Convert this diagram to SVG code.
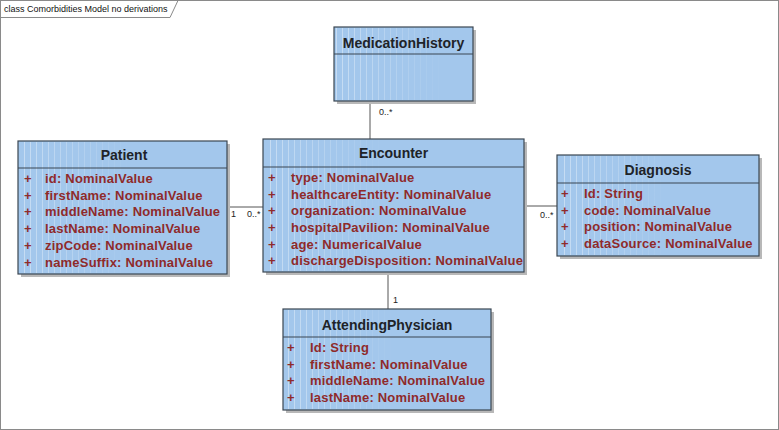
<svg xmlns="http://www.w3.org/2000/svg" width="779" height="430" viewBox="0 0 779 430">
<defs>
<style>
.frame{fill:none;stroke:#8a8a8a;stroke-width:1}
.shadow{fill:#b8b8b8}
.box{fill:#a3c7ec;stroke:#3b4652;stroke-width:1.2}
.sep{stroke:#3b4652;stroke-width:1.2}
.title{font-family:"Liberation Sans",Arial,sans-serif;font-weight:bold;font-size:14px;fill:#1e2328;text-anchor:middle}
.attr{font-family:"Liberation Sans",Arial,sans-serif;font-weight:bold;font-size:13px;letter-spacing:0.2px;fill:#8f2a2a}
.conn{stroke:#555;stroke-width:1;fill:none}
.mult{font-family:"Liberation Sans",Arial,sans-serif;font-size:9px;fill:#222}
.tab{font-family:"Liberation Sans",Arial,sans-serif;font-size:9px;fill:#111}
</style>
<linearGradient id="fade" x1="0" x2="1" y1="0" y2="0">
<stop offset="0" stop-color="#fff" stop-opacity="0.5"/>
<stop offset="1" stop-color="#fff" stop-opacity="0"/>
</linearGradient>
<pattern id="stripes" width="6" height="10" patternUnits="userSpaceOnUse">
<rect x="0" y="0" width="0.8" height="10" fill="#ffffff"/>
</pattern>
<mask id="fm" maskContentUnits="objectBoundingBox">
<rect x="0" y="0" width="1" height="1" fill="url(#fade)"/>
</mask>
</defs>
<rect x="0.5" y="0.5" width="778" height="429" class="frame"/>
<path d="M0.5 17.5 H170 L178 0.5" class="frame"/>
<text x="4" y="12" class="tab">class Comorbidities Model no derivations</text>

<g id="connectors">
<line x1="370" y1="101" x2="370" y2="139" class="conn"/>
<text x="379" y="115" class="mult">0..*</text>
<line x1="227" y1="207" x2="263" y2="207" class="conn"/>
<text x="231" y="217" class="mult">1</text>
<text x="247" y="217" class="mult">0..*</text>
<line x1="524" y1="206" x2="557" y2="206" class="conn"/>
<text x="540" y="218" class="mult">0..*</text>
<line x1="388" y1="272" x2="388" y2="309" class="conn"/>
<text x="393" y="303" class="mult">1</text>
</g>

<g id="MedicationHistory">
<rect x="337" y="30" width="139" height="74" class="shadow"/>
<rect x="334" y="27" width="139" height="74" class="box"/>
<rect x="336" y="28" width="110" height="72" fill="url(#stripes)" mask="url(#fm)"/>
<line x1="334" y1="54" x2="473" y2="54" class="sep"/>
<text x="403.5" y="48" class="title">MedicationHistory</text>
</g>

<g id="Patient">
<rect x="21" y="144" width="209" height="133" class="shadow"/>
<rect x="18" y="141" width="209" height="133" class="box"/>
<rect x="20" y="142" width="110" height="131" fill="url(#stripes)" mask="url(#fm)"/>
<line x1="18" y1="168" x2="227" y2="168" class="sep"/>
<text x="124" y="160" class="title">Patient</text>
<g class="attr">
<text x="24" y="183">+</text><text x="45" y="183">id:  NominalValue</text>
<text x="24" y="200">+</text><text x="45" y="200">firstName:  NominalValue</text>
<text x="24" y="216">+</text><text x="45" y="216">middleName:  NominalValue</text>
<text x="24" y="233">+</text><text x="45" y="233">lastName:  NominalValue</text>
<text x="24" y="250">+</text><text x="45" y="250">zipCode:  NominalValue</text>
<text x="24" y="267">+</text><text x="45" y="267">nameSuffix:  NominalValue</text>
</g>
</g>

<g id="Encounter">
<rect x="266" y="142" width="261" height="133" class="shadow"/>
<rect x="263" y="139" width="261" height="133" class="box"/>
<rect x="265" y="140" width="120" height="131" fill="url(#stripes)" mask="url(#fm)"/>
<line x1="263" y1="167" x2="524" y2="167" class="sep"/>
<text x="393.5" y="158" class="title">Encounter</text>
<g class="attr">
<text x="268" y="182">+</text><text x="291" y="182">type:  NominalValue</text>
<text x="268" y="199">+</text><text x="291" y="199">healthcareEntity:  NominalValue</text>
<text x="268" y="215">+</text><text x="291" y="215">organization:  NominalValue</text>
<text x="268" y="232">+</text><text x="291" y="232">hospitalPavilion:  NominalValue</text>
<text x="268" y="249">+</text><text x="291" y="249">age:  NumericalValue</text>
<text x="268" y="265">+</text><text x="291" y="265">dischargeDisposition:  NominalValue</text>
</g>
</g>

<g id="Diagnosis">
<rect x="560" y="158" width="202" height="101" class="shadow"/>
<rect x="557" y="155" width="202" height="101" class="box"/>
<rect x="559" y="156" width="110" height="99" fill="url(#stripes)" mask="url(#fm)"/>
<line x1="557" y1="183" x2="759" y2="183" class="sep"/>
<text x="658" y="175" class="title">Diagnosis</text>
<g class="attr">
<text x="561" y="198">+</text><text x="584" y="198">Id:  String</text>
<text x="561" y="215">+</text><text x="584" y="215">code:  NominalValue</text>
<text x="561" y="231">+</text><text x="584" y="231">position:  NominalValue</text>
<text x="561" y="248">+</text><text x="584" y="248">dataSource:  NominalValue</text>
</g>
</g>

<g id="AttendingPhysician">
<rect x="286" y="312" width="208" height="101" class="shadow"/>
<rect x="283" y="309" width="208" height="101" class="box"/>
<rect x="285" y="310" width="110" height="99" fill="url(#stripes)" mask="url(#fm)"/>
<line x1="283" y1="337" x2="491" y2="337" class="sep"/>
<text x="387" y="330" class="title">AttendingPhysician</text>
<g class="attr">
<text x="287" y="352">+</text><text x="310" y="352">Id:  String</text>
<text x="287" y="369">+</text><text x="310" y="369">firstName:  NominalValue</text>
<text x="287" y="385">+</text><text x="310" y="385">middleName:  NominalValue</text>
<text x="287" y="402">+</text><text x="310" y="402">lastName:  NominalValue</text>
</g>
</g>
</svg>
